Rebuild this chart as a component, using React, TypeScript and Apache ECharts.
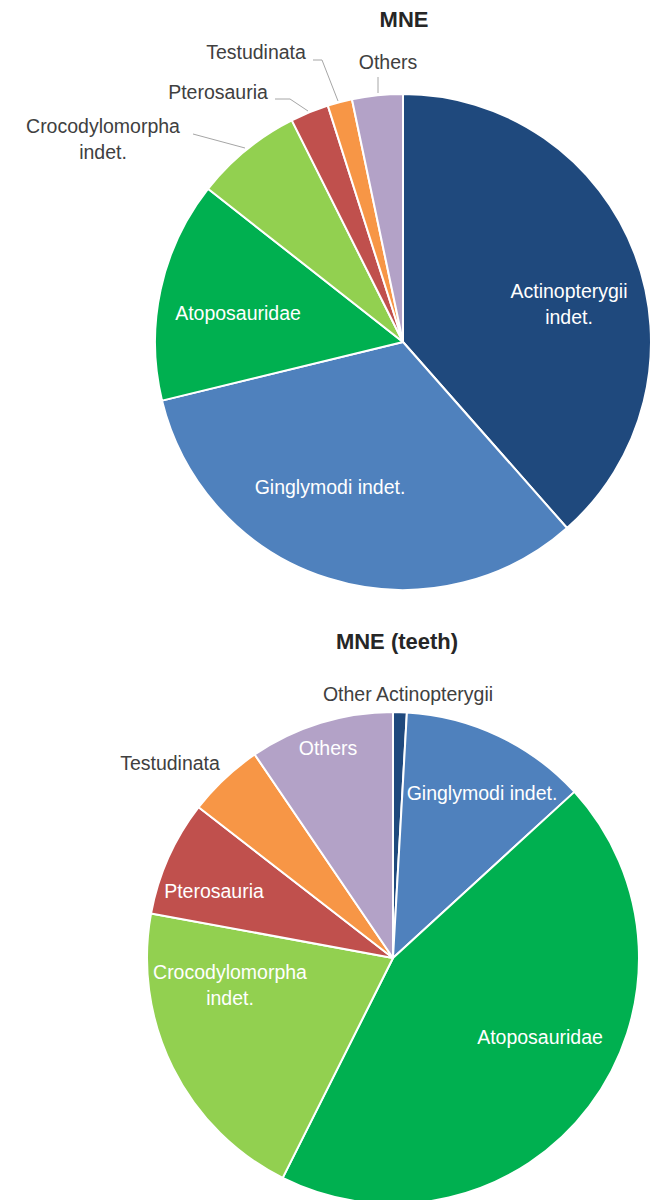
import React, { useEffect, useRef } from "react";
import * as echarts from "echarts";

// ---- data ----
const topTitle = "MNE";
const topCategories = [
  "Actinopterygii indet.",
  "Ginglymodi indet.",
  "Atoposauridae",
  "Crocodylomorpha indet.",
  "Pterosauria",
  "Testudinata",
  "Others",
];
const topValues = [38.5, 32.7, 14.4, 7.0, 2.5, 1.6, 3.3];

const bottomTitle = "MNE (teeth)";
const bottomCategories = [
  "Other Actinopterygii",
  "Ginglymodi indet.",
  "Atoposauridae",
  "Crocodylomorpha indet.",
  "Pterosauria",
  "Testudinata",
  "Others",
];
const bottomValues = [0.9, 12.3, 44.2, 20.5, 7.6, 5.0, 9.5];

// ---- styles / layout ----
const COLORS = ["#1F497D", "#4F81BD", "#00B050", "#92D050", "#C0504D", "#F79646", "#B3A2C7"];
const FONT = "Liberation Sans, Arial, sans-serif";
const WRAP_NAMES = ["Actinopterygii indet.", "Crocodylomorpha indet."];

const TOP_CENTER = [403, 342];
const TOP_RADIUS = 248;
const TOP_LABEL_POS = [[569, 304], [330, 487], [238, 313], [103, 139], [218, 92], [256, 52], [388, 62]];
const TOP_INSIDE = [true, true, true, false, false, false, false];
const TOP_LINES: (number[][] | null)[] = [
  null,
  null,
  null,
  [[193, 134], [245, 148]],
  [[275, 99], [290, 99], [308, 111]],
  [[313, 60], [322, 60], [338, 101]],
  [[378, 77], [378, 93]],
];

const BOT_CENTER = [393, 958];
const BOT_RADIUS = 246;
const BOT_LABEL_POS = [[408, 694], [482, 793], [540, 1037], [230, 985], [214, 891], [170, 763], [328, 748]];
const BOT_INSIDE = [false, true, true, true, true, false, true];
const BOT_LINES: (number[][] | null)[] = [null, null, null, null, null, null, null];

function makeSeries(
  categories: string[],
  values: number[],
  center: number[],
  radius: number,
  pos: number[][],
  inside: boolean[],
  lines: (number[][] | null)[]
) {
  return {
    type: "pie",
    center,
    radius,
    startAngle: 90,
    clockwise: true,
    avoidLabelOverlap: false,
    emphasis: { disabled: true },
    itemStyle: { borderColor: "#ffffff", borderWidth: 2 },
    label: {
      fontFamily: FONT,
      fontSize: 19.5,
      lineHeight: 26,
      align: "center",
      formatter: (p: any) =>
        WRAP_NAMES.includes(p.name) ? p.name.replace(" indet.", "\nindet.") : p.name,
    },
    labelLine: { lineStyle: { color: "#A6A6A6", width: 1 } },
    data: categories.map((name, i) => ({
      name,
      value: values[i],
      itemStyle: { color: COLORS[i] },
      label: {
        position: inside[i] ? "inside" : "outside",
        color: inside[i] ? "#ffffff" : "#404040",
      },
      labelLine: { show: !!lines[i] },
    })),
    labelLayout: (params: any) => {
      const i = params.dataIndex;
      const out: any = {
        x: pos[i][0],
        y: pos[i][1],
        align: "center",
        verticalAlign: "middle",
      };
      if (lines[i]) out.labelLinePoints = lines[i];
      return out;
    },
  };
}

export default function App() {
  const ref = useRef<HTMLDivElement>(null);
  useEffect(() => {
    if (!ref.current) return;
    const chart = echarts.init(ref.current, null, { renderer: "svg" });
    chart.setOption({
      animation: false,
      backgroundColor: "#ffffff",
      graphic: [
        {
          type: "text",
          x: 404,
          y: 19,
          style: {
            text: topTitle,
            fontFamily: FONT,
            fontSize: 22,
            fontWeight: "bold",
            fill: "#262626",
            align: "center",
            verticalAlign: "middle",
            textAlign: "center",
            textVerticalAlign: "middle",
          },
        },
        {
          type: "text",
          x: 397,
          y: 641,
          style: {
            text: bottomTitle,
            fontFamily: FONT,
            fontSize: 22,
            fontWeight: "bold",
            fill: "#262626",
            align: "center",
            verticalAlign: "middle",
            textAlign: "center",
            textVerticalAlign: "middle",
          },
        },
      ],
      series: [
        makeSeries(topCategories, topValues, TOP_CENTER, TOP_RADIUS, TOP_LABEL_POS, TOP_INSIDE, TOP_LINES),
        makeSeries(bottomCategories, bottomValues, BOT_CENTER, BOT_RADIUS, BOT_LABEL_POS, BOT_INSIDE, BOT_LINES),
      ],
    });
    return () => chart.dispose();
  }, []);
  return (
    <div
      ref={ref}
      style={{ position: "absolute", left: 0, top: 0, width: 654, height: 1200, background: "#fff" }}
    />
  );
}
